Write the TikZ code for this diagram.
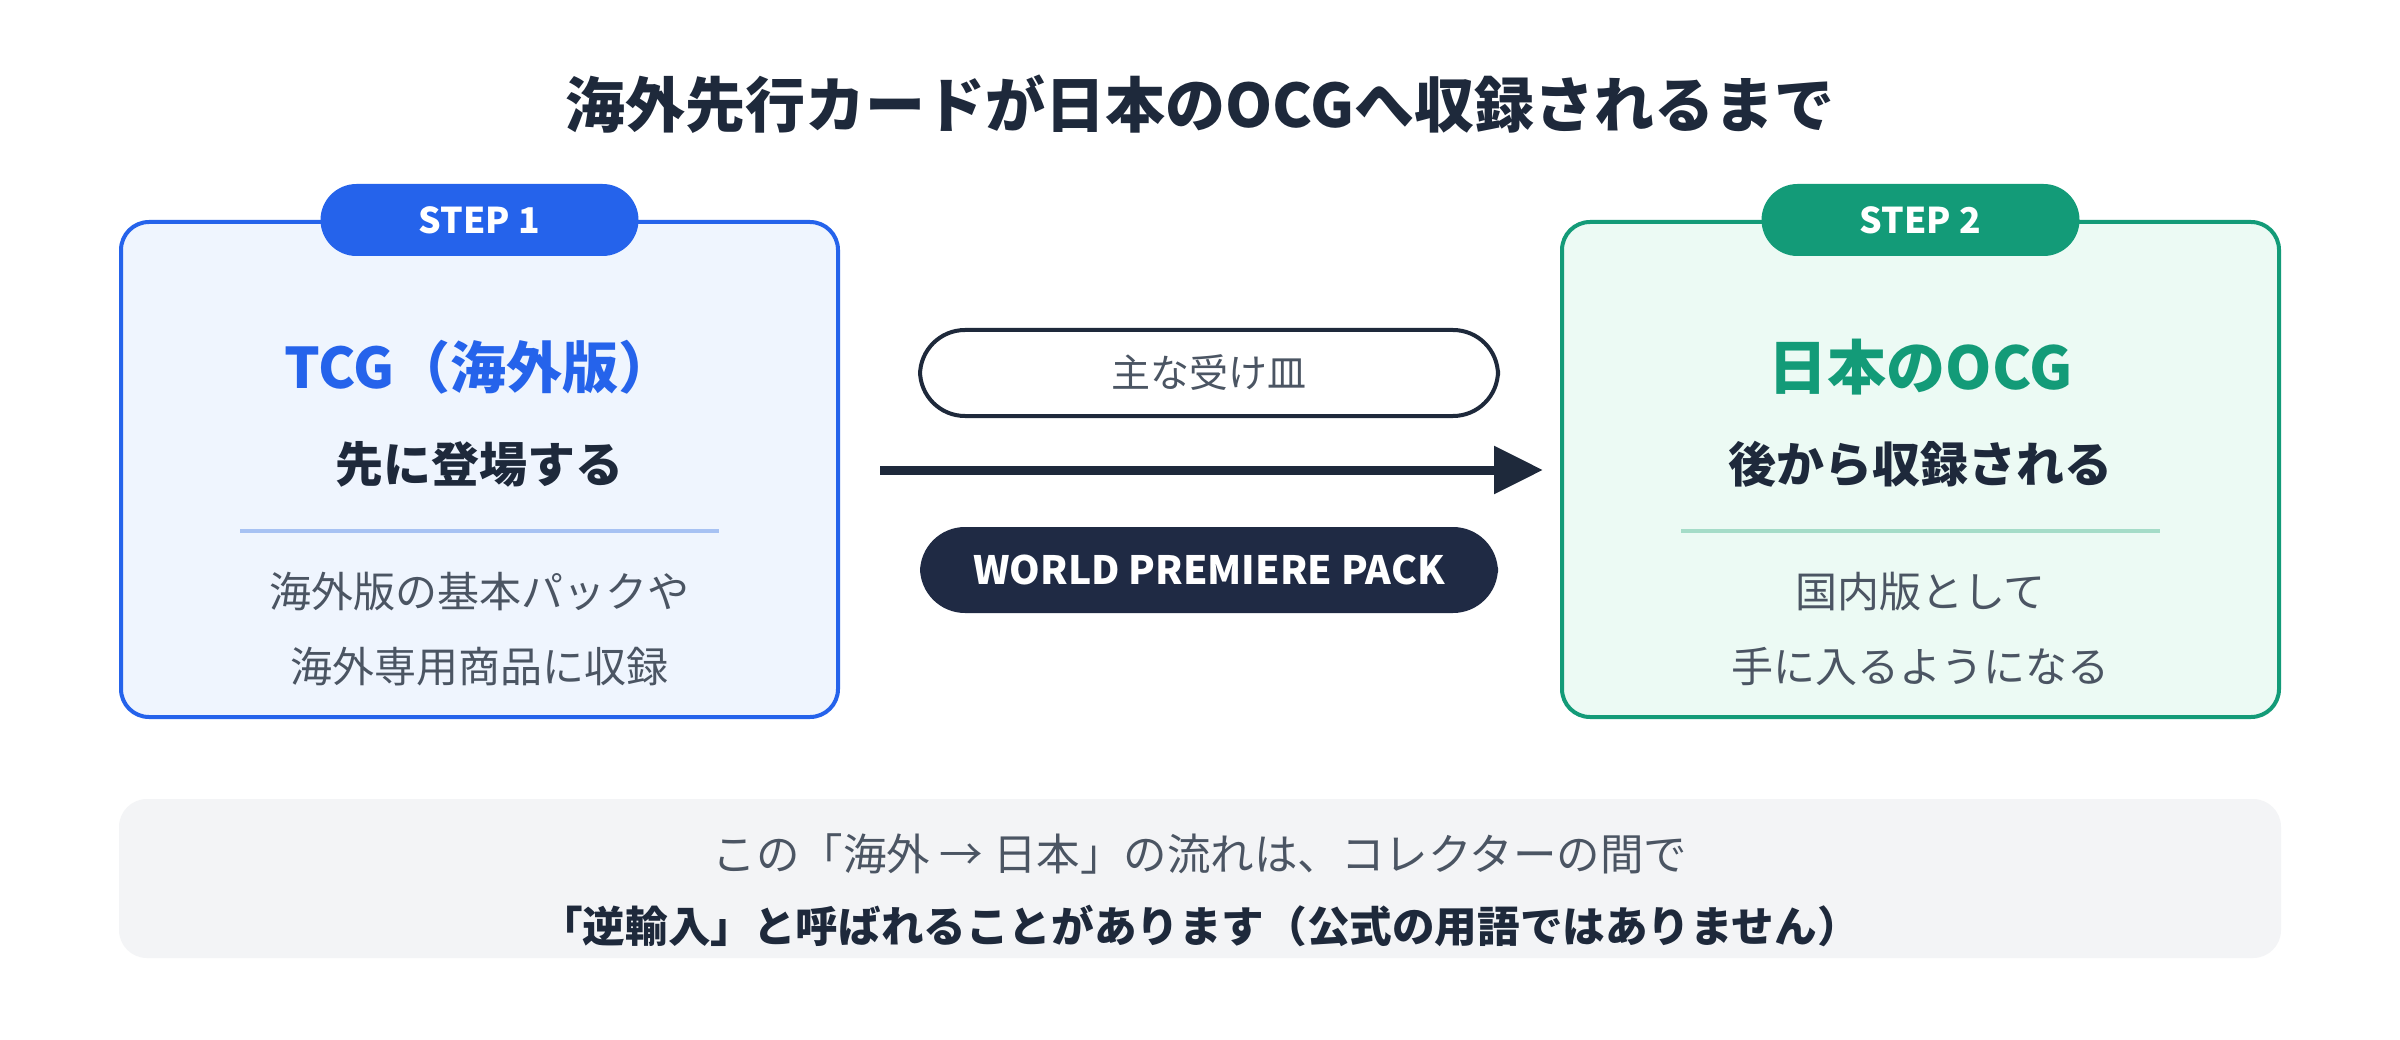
\documentclass[tikz,border=0pt]{standalone}
\usepackage{fontspec}
\setmainfont{Noto Sans CJK JP}
\usetikzlibrary{arrows.meta}
\definecolor{cblue}{HTML}{2563EB}
\definecolor{cbluebg}{HTML}{EFF5FE}
\definecolor{cbluediv}{HTML}{A7C2F3}
\definecolor{cgreen}{HTML}{139B78}
\definecolor{cgreenbg}{HTML}{ECFAF4}
\definecolor{cgreendiv}{HTML}{A5DCC8}
\definecolor{cnavy}{HTML}{1F2A44}
\definecolor{cdark}{HTML}{1E293B}
\definecolor{cgray}{HTML}{4B5563}
\definecolor{cpanel}{HTML}{F3F4F6}
\tikzset{
  card/.style={draw, line width=4pt, rounded corners=28pt, minimum width=717pt, minimum height=495pt, inner sep=0pt},
  steppill/.style={rounded corners=36pt, minimum width=318pt, minimum height=72pt, inner sep=0pt, text=white, font=\fontsize{35.5}{35.5}\selectfont\bfseries},
  headtxt/.style={font=\fontsize{56}{56}\selectfont\bfseries, inner sep=0pt},
  subtxt/.style={font=\fontsize{48}{48}\selectfont\bfseries, text=cdark, inner sep=0pt},
  bodytxt/.style={font=\fontsize{42}{42}\selectfont, text=cgray, inner sep=0pt},
  midpill/.style={rounded corners=45pt, minimum width=578pt, minimum height=86pt, inner sep=0pt},
  divline/.style={line width=4pt},
}
\begin{document}
\begin{tikzpicture}[x=1pt,y=-1pt]
\useasboundingbox[fill=white] (0,0) rectangle (2400,1040);

% title
\node[font=\fontsize{60}{60}\selectfont\bfseries, text=cdark, inner sep=0pt] (title) at (1200,104) {海外先行カードが日本のOCGへ収録されるまで};

% left card
\node[card, draw=cblue, fill=cbluebg] (box1) at (479.5,469.5) {};
\node[steppill, fill=cblue] (step1) at (479.5,220) {STEP 1};
\node[headtxt, text=cblue] (h1) at (479.5,367) {TCG（海外版）};
\node[subtxt] (s1) at (479.5,464) {先に登場する};
\coordinate (d1a) at (240,531);
\coordinate (d1b) at (719,531);
\draw[divline, cbluediv] (d1a) -- (d1b);
\node[bodytxt] (b1a) at (479.5,592) {海外版の基本パックや};
\node[bodytxt] (b1b) at (479.5,667) {海外専用商品に収録};

% right card
\node[card, draw=cgreen, fill=cgreenbg] (box2) at (1920.5,469.5) {};
\node[steppill, fill=cgreen] (step2) at (1920.5,220) {STEP 2};
\node[headtxt, text=cgreen, font=\fontsize{59}{59}\selectfont\bfseries] (h2) at (1920.5,367) {日本のOCG};
\node[subtxt] (s2) at (1920.5,464) {後から収録される};
\coordinate (d2a) at (1681,531);
\coordinate (d2b) at (2160,531);
\draw[divline, cgreendiv] (d2a) -- (d2b);
\node[bodytxt] (b2a) at (1920.5,592) {国内版として};
\node[bodytxt] (b2b) at (1920.5,667) {手に入るようになる};

% middle
\node[midpill, draw=cdark, line width=4pt, fill=white, font=\fontsize{39}{39}\selectfont, text=cgray] (recv) at (1209,373) {主な受け皿};
\node[midpill, fill=cnavy, font=\fontsize{39}{39}\selectfont\bfseries, text=white] (wpp) at (1209,570) {WORLD PREMIERE PACK};
\coordinate (as) at (880,470);
\coordinate (ae) at (1543,470);
\draw[line width=9pt, cdark, -{Triangle[length=49pt,width=46pt]}] (as) -- (ae);

% bottom panel
\node[fill=cpanel, rounded corners=28pt, minimum width=2162pt, minimum height=159pt, inner sep=0pt] (panel) at (1200,878.5) {};
\node[font=\fontsize{43.5}{43.5}\selectfont, text=cgray, inner sep=0pt] (n1) at (1200,854) {この「海外 → 日本」の流れは、コレクターの間で};
\node[font=\fontsize{42.6}{42.6}\selectfont\bfseries, text=cdark, inner sep=0pt] (n2) at (1200,926) {「逆輸入」と呼ばれることがあります（公式の用語ではありません）};
\end{tikzpicture}
\end{document}
